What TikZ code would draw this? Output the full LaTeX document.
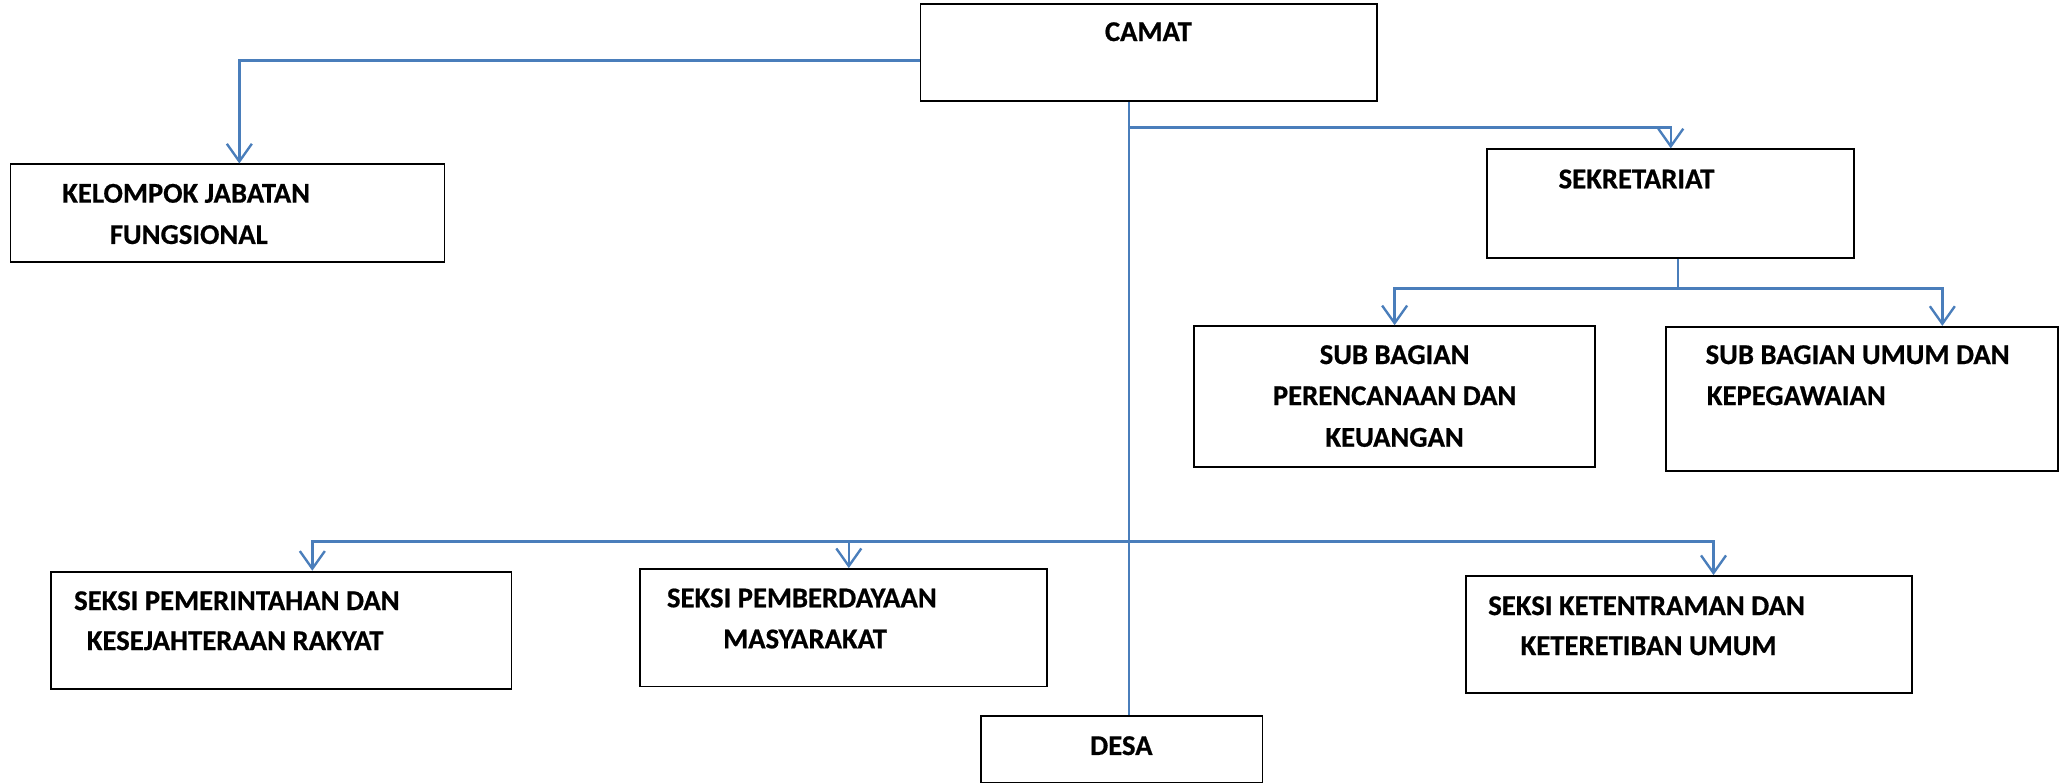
\documentclass[tikz,border=0pt]{standalone}
\usepackage{fontspec}
\setmainfont{Carlito}[BoldFeatures={FakeBold=0.6}]
\usepackage{tikz}
\usetikzlibrary{calc}
\usetikzlibrary{arrows.meta,shapes}
\usetikzlibrary{fit,positioning}
\definecolor{linkblue}{RGB}{74,126,187}
\newcommand{\orgfont}{\fontsize{10.9}{13}\selectfont\bfseries}
\tikzset{
    unit/.style={draw=black, line width=0.7pt, inner sep=0pt},
    branch/.style={draw=linkblue, line width=0.9pt},
    branchto/.style={branch, -{Straight Barb[length=6.7pt,width=9.5pt]}},
    unittext/.style={font=\orgfont, inner sep=0pt, anchor=base west},
}
\begin{document}
\begin{tikzpicture}[x=0.5pt,y=-0.5pt]
    \useasboundingbox (0,0) rectangle (1568,596);
    % boxes
    \node[unit, fit={(700,3) (1047,77)}] (camat) {};
    \node[unit, fit={(8,125) (338,199)}] (kelompok) {};
    \node[unit, fit={(1131,113.5) (1410,196)}] (sekretariat) {};
    \node[unit, fit={(908,248) (1213,355)}] (subrenkeu) {};
    \node[unit, fit={(1267,248.5) (1565,358)}] (subumum) {};
    \node[unit, fit={(39,434.7) (389,524)}] (seksipem) {};
    \node[unit, fit={(486.5,432.7) (796,522)}] (seksipmd) {};
    \node[unit, fit={(1114.6,438) (1454,527)}] (seksitrantib) {};
    \node[unit, fit={(746,544.5) (960,595)}] (desa) {};
    % texts
    \node[unittext] (camat-t) at (839.8,31.2) {CAMAT};
    \node[unittext] (kelompok-t1) at (46.9,154.1) {KELOMPOK JABATAN};
    \node[unittext] (kelompok-t2) at (83.1,185.5) {FUNGSIONAL};
    \node[unittext] (sekretariat-t) at (1184.8,143.2) {SEKRETARIAT};
    \node[unittext, anchor=base] (subrenkeu-t1) at (1060.5,276.8) {SUB BAGIAN};
    \node[unittext, anchor=base] (subrenkeu-t2) at (1060.5,308) {PERENCANAAN DAN};
    \node[unittext, anchor=base] (subrenkeu-t3) at (1060.5,339.7) {KEUANGAN};
    \node[unittext] (subumum-t1) at (1296.6,276.8) {SUB BAGIAN UMUM DAN};
    \node[unittext] (subumum-t2) at (1297.5,308) {KEPEGAWAIAN};
    \node[unittext] (seksipem-t1) at (56,463.9) {SEKSI PEMERINTAHAN DAN};
    \node[unittext] (seksipem-t2) at (65.6,494.3) {KESEJAHTERAAN RAKYAT};
    \node[unittext] (seksipmd-t1) at (506.8,461.8) {SEKSI PEMBERDAYAAN};
    \node[unittext] (seksipmd-t2) at (549.5,493) {MASYARAKAT};
    \node[unittext] (seksitrantib-t1) at (1131.3,467.7) {SEKSI KETENTRAMAN DAN};
    \node[unittext] (seksitrantib-t2) at (1155.9,498.1) {KETERETIBAN UMUM};
    \node[unittext, anchor=base] (desa-t) at (852.7,574.1) {DESA};
    % connectors
    \coordinate (trunk) at ([xshift=-7.4pt]camat.south);
    \draw[branchto] ([yshift=-3pt]camat.west) -| ([xshift=4.5pt]kelompok.north);
    \draw[branch] (trunk) -- (trunk |- desa.north);
    \draw[branchto] ($(trunk)!0.55!(trunk |- sekretariat.north)$) -| (sekretariat.north);
    \draw[branch] ([xshift=2.75pt]sekretariat.south) -- ++(0,22.8) coordinate (sek-bus);
    \draw[branchto] (sek-bus) -| (subrenkeu.north);
    \draw[branchto] (sek-bus) -| ([xshift=30.5pt]subumum.north);
    \path (trunk) ++(0,334) coordinate (seksi-bus);
    \draw[branchto] (seksi-bus) -| ([xshift=11.75pt]seksipem.north);
    \draw[branchto] (seksi-bus) -| ([xshift=2.1pt]seksipmd.north);
    \draw[branchto] (seksi-bus) -| ([xshift=9.35pt]seksitrantib.north);
\end{tikzpicture}
\end{document}
